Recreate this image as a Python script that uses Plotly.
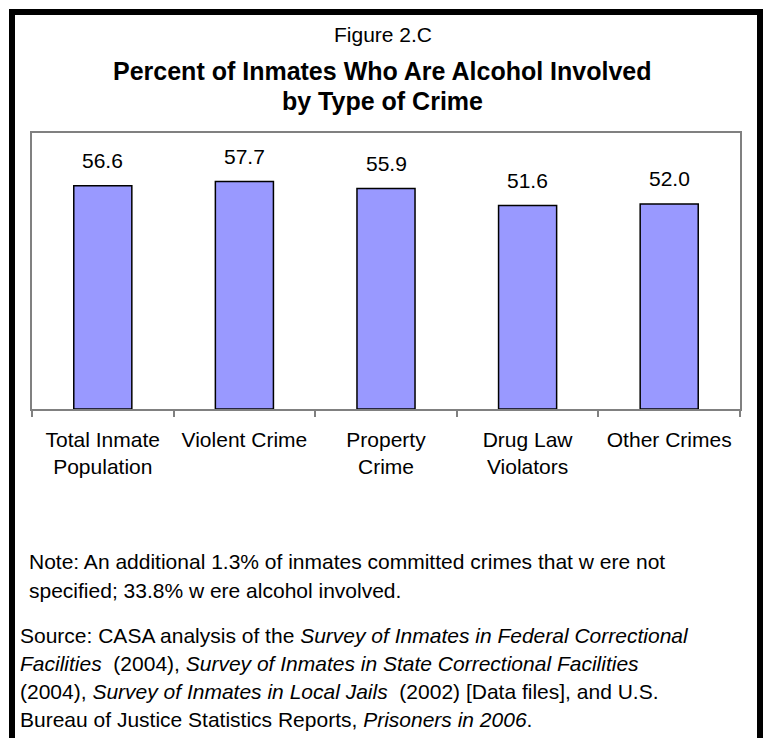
import plotly.graph_objects as go

# Data
categories = ["Total Inmate<br>Population", "Violent Crime", "Property<br>Crime",
              "Drug Law<br>Violators", "Other Crimes"]
percent_alcohol = [56.6, 57.7, 55.9, 51.6, 52.0]

W, H = 765, 738
FONT = "Liberation Sans, Arial, sans-serif"


def px_x(x):
    return x / W


def px_y(y):
    return 1 - y / H


fig = go.Figure()
fig.add_trace(go.Bar(
    x=categories,
    y=percent_alcohol,
    width=0.41,
    marker=dict(color="#9999FF", line=dict(color="black", width=1.5)),
    hoverinfo="skip",
))

# value labels above each bar
for c, v in zip(categories, percent_alcohol):
    fig.add_annotation(x=c, y=v, xref="x", yref="y", text=f"{v:.1f}",
                       showarrow=False, yanchor="bottom", yshift=12,
                       font=dict(family=FONT, size=21, color="black"))

# headings
fig.add_annotation(x=0.5, y=px_y(35), xref="paper", yref="paper", text="Figure 2.C",
                   showarrow=False, yanchor="middle",
                   font=dict(family=FONT, size=21, color="black"))
fig.add_annotation(x=0.5, y=px_y(71), xref="paper", yref="paper",
                   text="<b>Percent of Inmates Who Are Alcohol Involved</b>",
                   showarrow=False, yanchor="middle",
                   font=dict(family=FONT, size=25, color="black"))
fig.add_annotation(x=0.5, y=px_y(101), xref="paper", yref="paper",
                   text="<b>by Type of Crime</b>",
                   showarrow=False, yanchor="middle",
                   font=dict(family=FONT, size=25, color="black"))

# note and source text
note_lines = [
    (27, 561, "Note: An additional 1.3% of inmates committed crimes that w ere not"),
    (27, 590, "specified; 33.8% w ere alcohol involved."),
]
source_lines = [
    (18, 635, "Source: CASA analysis of the <i>Survey of Inmates in Federal Correctional</i>"),
    (18, 663, "<i>Facilities</i>  (2004), <i>Survey of Inmates in State Correctional Facilities</i>"),
    (18, 691, "(2004), <i>Survey of Inmates in Local Jails</i>  (2002) [Data files], and U.S."),
    (18, 719, "Bureau of Justice Statistics Reports, <i>Prisoners in 2006</i>."),
]
for x, y, t in note_lines + source_lines:
    fig.add_annotation(x=px_x(x), y=px_y(y), xref="paper", yref="paper", text=t,
                       showarrow=False, xanchor="left", yanchor="middle",
                       font=dict(family=FONT, size=21, color="black"))

# outer black frame
fig.add_shape(type="rect", xref="paper", yref="paper",
              x0=px_x(12), x1=px_x(760), y0=px_y(760), y1=px_y(12),
              line=dict(color="black", width=6), fillcolor="rgba(0,0,0,0)")

fig.update_layout(
    width=W, height=H,
    margin=dict(l=0, r=0, t=0, b=0),
    paper_bgcolor="white", plot_bgcolor="white",
    showlegend=False,
    xaxis=dict(domain=[px_x(32), px_x(740)], type="category",
               showline=True, linecolor="#808080", linewidth=1.5, mirror=True,
               ticks="outside", tickson="boundaries", ticklen=6, tickcolor="#808080",
               tickwidth=1.5, ticklabelstandoff=11,
               tickfont=dict(family=FONT, size=21, color="black"),
               showgrid=False, zeroline=False),
    yaxis=dict(domain=[px_y(409), px_y(133)], range=[0, 70],
               showline=True, linecolor="#808080", linewidth=1.5, mirror=True,
               showticklabels=False, ticks="", showgrid=False, zeroline=False),
)

fig.write_html("out.html")
